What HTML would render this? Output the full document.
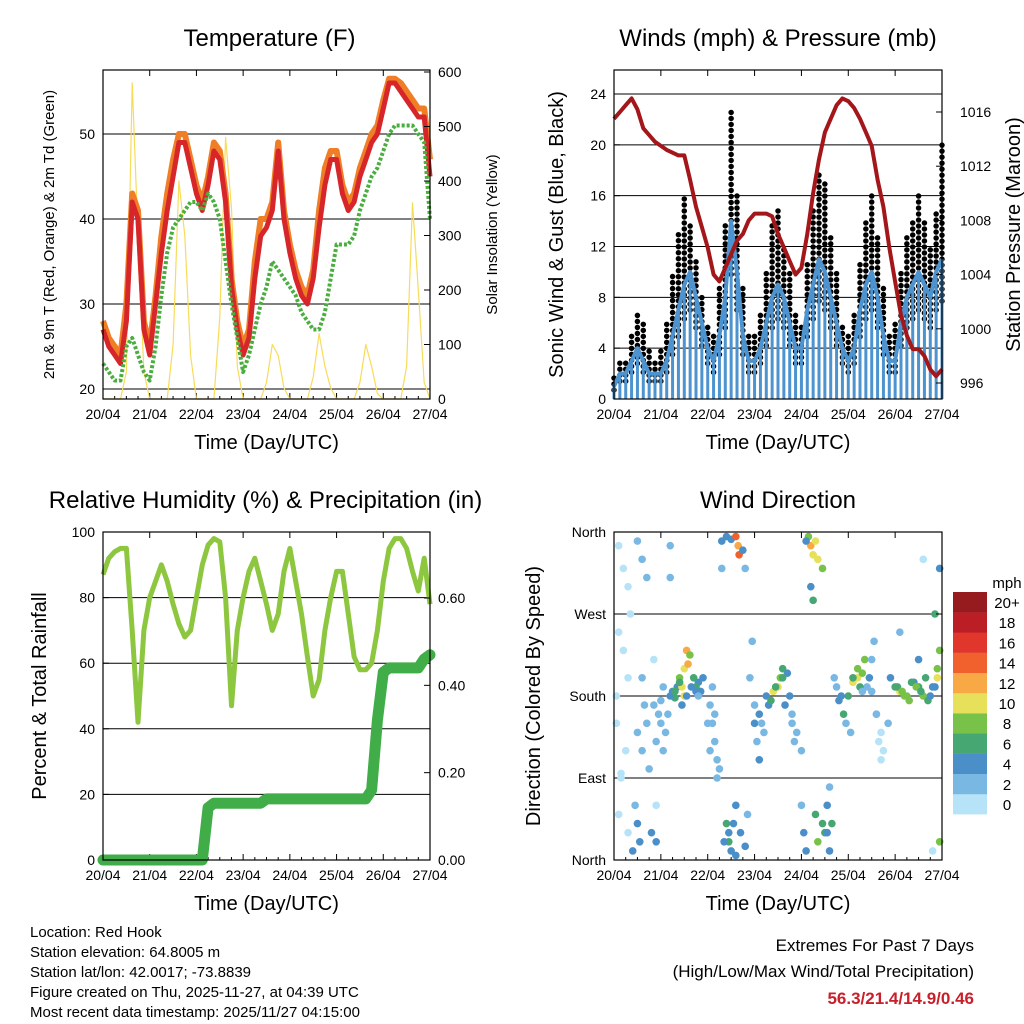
<!DOCTYPE html>
<html><head><meta charset="utf-8"><style>
html,body{margin:0;padding:0;background:#fff}
svg{display:block;font-family:"Liberation Sans",sans-serif}
</style></head><body>
<svg id="s" width="1024" height="1024" viewBox="0 0 1024 1024" xmlns="http://www.w3.org/2000/svg"></svg>
<script>
// ---- data (3-hourly, 20/04 00Z .. 27/04 00Z) ----
const dayLabels=["20/04","21/04","22/04","23/04","24/04","25/04","26/04","27/04"];
const temp2m=[27,25,24,23,28,42,40,27,24,30,36,41,45,49,49,46,43,41,44,48,47,42,32,27,24,26,33,38,39,41,48,40,36,33,31,30,33,39,44,47,47,43,41,42,45,47,49,50,53,56,56,55,54,53,52,52,45];
const temp9m=[28,26,25,24,30,43,41,28,25,31,38,43,47,50,50,47,44,42,45,49,48,43,33,28,25,27,35,40,40,42,49,41,37,34,32,31,34,41,46,48,48,44,42,43,46,48,50,51,54,56.5,56.5,56,55,54,53,53,47];
const dewpoint=[23,22,21,21,25,26,24,22,21,25,31,36,39,40,41,42,42,41,43,42,40,35,30,26,22,24,27,30,32,35,34,33,32,31,29,28,27,27,29,33,37,37,37,38,41,43,45,46,48,50,51,51,51,51,50,49,40];
const solar=[0,0,0,0,50,580,300,50, 0,0,0,0,100,400,300,80, 0,0,0,0,150,480,350,60, 0,0,0,0,30,100,80,20, 0,0,0,0,40,120,60,20, 0,0,0,0,30,100,60,10, 0,0,0,0,60,360,200,30, 0];
const windSpd=[1,2,2,3,4,3,2,2, 2,3,5,7,9,10,8,6, 4,3,5,8,14,10,5,3, 3,4,6,8,9,8,6,4, 4,7,9,11,10,8,6,4, 3,4,7,9,10,8,5,3, 3,6,8,9,10,9,8,10, 11];
const windGust=[2,3,3,5,7,6,4,3, 4,6,10,13,16,14,11,8, 6,5,9,14,23,16,9,5, 5,7,10,14,15,12,10,7, 6,11,15,18,17,13,10,6, 5,7,11,14,16,13,9,5, 6,10,13,14,16,14,12,15, 20];
const pressure=[1015.5,1016,1016.5,1017,1016.2,1014.8,1014.3,1013.8,1013.5,1013.2,1013,1012.8,1012.8,1011,1009,1007.5,1006,1004,1003.5,1004.5,1005.5,1006.5,1007,1008,1008.5,1008.5,1008.5,1008.3,1007,1006,1005,1004,1004.5,1007,1010,1012.5,1014.5,1015.5,1016.5,1017,1016.8,1016.3,1015.5,1014.5,1013.5,1011,1009,1006,1003.5,1001,999.5,998.5,998.5,998,997,996.5,997];
const humidity=[87,92,94,95,95,70,42,70,80,85,90,85,78,72,68,70,80,90,96,98,97,80,47,70,80,88,92,85,78,70,75,88,95,85,75,62,50,55,70,80,88,88,75,62,58,58,60,70,85,95,98,98,95,88,82,92,78];
const precip=[0,0,0,0,0,0,0,0,0,0,0,0,0,0,0,0,0,0,0.12,0.13,0.13,0.13,0.13,0.13,0.13,0.13,0.13,0.13,0.14,0.14,0.14,0.14,0.14,0.14,0.14,0.14,0.14,0.14,0.14,0.14,0.14,0.14,0.14,0.14,0.14,0.14,0.16,0.32,0.43,0.44,0.44,0.44,0.44,0.44,0.44,0.46,0.47];
const dirTime=[0.1,0.2,0.3,0.5,0.6,0.7,0.1,0.2,0.3,0.05,0.25,0.15,0.5,0.6,0.45,0.5,0.55,0.4,0.1,0.3,
1.2,1.2,0.85,0.95,1.0,1.1,0.9,1.05,0.9,0.85,
1.25,1.3,1.35,1.4,1.45,1.5,1.55,1.58,1.62,1.7,1.8,1.9,1.85,1.75,1.5,
2.05,2.1,2.15,2.2,2.25,2.1,
2.3,2.4,2.5,2.6,2.65,2.67,2.75,2.8,2.3,
2.4,2.45,2.5,2.7,2.8,2.85,2.6,
2.95,3.0,3.05,3.1,3.2,3.3,3.4,3.5,3.55,3.6,3.7,3.75,3.8,3.9,4.0,
4.15,4.2,4.25,4.3,4.35,4.45,4.2,4.25,4.1,
4.0,4.05,4.1,4.3,4.35,4.45,4.5,4.55,4.6,
4.7,4.8,4.9,5.0,5.1,5.2,5.3,5.35,5.4,5.5,5.55,5.6,5.65,5.7,4.95,5.05,
5.9,6.0,6.1,6.2,6.3,6.4,6.5,6.6,6.7,6.8,6.9,6.95,6.85,6.5,6.6,6.1,6.95,6.95,6.8,
0.05,0.15,0.35,0.6,0.65,0.7,0.75,0.8,0.9,1.0,1.05,1.15,1.2,1.3,1.4,1.45,1.55,1.65,1.75,1.8,
2.0,2.05,2.15,2.2,2.35,2.45,2.55,2.6,2.9,3.0,3.1,3.15,3.25,3.35,3.45,3.6,3.65,3.8,3.85,
4.55,4.6,4.65,4.75,4.85,5.1,5.2,5.25,5.3,5.45,5.5,5.6,5.7,5.75,5.85,6.05,6.15,6.25,6.35,6.45,6.55,6.65,6.75,6.85,6.9];
const dirDeg=[345,320,300,350,330,310,250,230,200,150,120,95,140,120,60,40,20,10,50,30,
345,310,170,160,150,140,130,120,60,220,
185,178,190,200,190,210,230,215,225,200,195,200,185,190,180,
170,150,130,110,100,190,
350,355,352,355,345,335,340,320,320,
40,20,10,30,15,50,5,
240,150,130,110,140,170,185,190,200,210,205,180,160,140,120,
355,345,335,350,330,320,300,285,350,
60,30,10,50,20,40,30,60,80,
200,175,160,180,195,200,205,220,190,220,240,160,130,110,150,140,
200,190,185,180,175,195,190,180,175,190,200,230,270,220,330,250,320,20,10,
180,90,270,200,170,150,100,30,20,175,190,160,180,185,195,170,180,190,185,180,
150,120,160,90,20,30,40,60,200,170,160,150,180,175,190,200,170,150,130,
30,10,40,190,180,200,210,190,185,200,185,160,140,120,150,190,185,180,195,190,185,200,180,190,210];
const dirSpeed=[1,1,1,3,3,3,1,1,1,1,1,1,3,3,3,4,4,4,1,1,
2,2,2,2,2,3,3,2,1,1,
5,6,5,8,10,10,12,12,8,6,4,4,4,7,10,
3,3,3,2,2,2,
4,5,4,15,13,14,4,2,3,
6,6,4,4,4,3,4,
3,4,3,4,3,4,10,10,8,6,4,4,3,2,2,
8,12,10,10,10,8,4,6,4,
2,4,4,6,8,6,7,4,2,
3,4,6,6,10,10,8,8,3,2,3,2,1,1,3,2,
4,7,10,8,8,4,6,8,7,4,10,8,6,4,1,2,4,8,1,
1,1,1,2,2,3,3,4,4,3,3,2,4,6,6,5,4,4,5,3,
3,3,2,2,4,5,4,4,2,3,4,3,4,6,7,6,5,3,2,
4,4,6,3,5,7,8,6,3,4,3,2,1,1,3,7,8,9,6,8,7,6,5,4,8];
const speedColors=["#b6e3f7","#7ab8e4","#4a8fc8","#47a772","#79c24a","#e7e05a","#f8a844","#f0612d","#e0362b","#bc1e26","#951b1e"];
const speedLabels=["0","2","4","6","8","10","12","14","16","18","20+"];

const NS="http://www.w3.org/2000/svg";
const S=document.getElementById('s');
function mk(tag,attrs,parent,name,inter){const e=document.createElementNS(NS,tag);for(const k in attrs)e.setAttribute(k,attrs[k]);(parent||S).appendChild(e);


return e;}
function txt(x,y,s,size,anchor,parent,name,extra){const t=mk('text',Object.assign({x:x,y:y,'font-size':size,'text-anchor':anchor||'middle',fill:'#000'},extra||{}),parent,name);t.textContent=s;return t;}
function lin(d0,d1,r0,r1){return v=>r0+(v-d0)*(r1-r0)/(d1-d0);}
const tIdx=i=>i/8;

function panel(o){
  const g=mk('g',{},S,o.name);
  const X=lin(0,7,o.x0,o.x1);
  o.grid.forEach(v=>mk('line',{x1:o.x0,x2:o.x1,y1:o.Y(v),y2:o.Y(v),stroke:'#000','stroke-width':1},g,'gridline'));
  dayLabels.forEach((l,i)=>{const x=X(i);mk('line',{x1:x,x2:x,y1:o.y0,y2:o.y0+6,stroke:'#000'},g,'x-tick');mk('line',{x1:x,x2:x,y1:o.y1,y2:o.y1-6,stroke:'#000'},g,'x-tick');txt(x,o.y1+20,l,14,'middle',g,'x-tick-label');});
  for(let i=0;i<7;i++){for(let k=1;k<4;k++){const x=X(i+k/4);mk('line',{x1:x,x2:x,y1:o.y1,y2:o.y1-3,stroke:'#000'},g,'x-minor-tick');}}
  txt((o.x0+o.x1)/2,o.y1+50,'Time (Day/UTC)',20,'middle',g,'x-axis-title');
  txt((o.x0+o.x1)/2+(o.titleDx||0),o.y0-24,o.title,24,'middle',g,'chart-title');
  o.leftTicks.forEach(([v,l])=>{const y=o.Y(v);mk('line',{x1:o.x0,x2:o.x0+6,y1:y,y2:y,stroke:'#000'},g,'y-tick');txt(o.x0-8,y+5,l,14,'end',g,'y-tick-label');});
  txt(0,0,o.ylab,o.ylabSize||20,'middle',g,'y-axis-title',{transform:`translate(${o.ylx},${(o.y0+o.y1)/2}) rotate(-90)`});
  return {g,X};
}
function frame(o,g){mk('rect',{x:o.x0,y:o.y0,width:o.x1-o.x0,height:o.y1-o.y0,fill:'none',stroke:'#000','stroke-width':1.2},g,'plot-frame');}
function path(arr,X,Y,attrs,g,name){let d='';arr.forEach((v,i)=>{d+=(i?'L':'M')+X(tIdx(i)).toFixed(1)+','+Y(v).toFixed(1);});return mk('path',Object.assign({d:d,fill:'none','stroke-linejoin':'round'},attrs),g,name);}

// ---- Panel 1: Temperature ----
{const o={name:'temperature-panel',x0:103,x1:430,y0:70,y1:399,Y:lin(20,50,389,134),grid:[20,30,40,50],leftTicks:[[20,'20'],[30,'30'],[40,'40'],[50,'50']],title:'Temperature (F)',titleDx:3,ylab:'2m & 9m T (Red, Orange) & 2m Td (Green)',ylabSize:15,ylx:54};
 const {g,X}=panel(o);const YS=lin(0,600,399,72);
 path(solar,X,YS,{stroke:'#f7dc5a','stroke-width':1.2},g,'solar-insolation-line');
 path(temp9m,X,o.Y,{stroke:'#f07e26','stroke-width':6},g,'temp-9m-line');
 path(temp2m,X,o.Y,{stroke:'#d7262a','stroke-width':5},g,'temp-2m-line');
 path(dewpoint,X,o.Y,{stroke:'#4aae3f','stroke-width':4,'stroke-dasharray':'3 2'},g,'dewpoint-line');
 [0,100,200,300,400,500,600].forEach(v=>{const y=YS(v);mk('line',{x1:o.x1,x2:o.x1-6,y1:y,y2:y,stroke:'#000'},g,'y2-tick');txt(o.x1+8,y+5,String(v),14,'start',g,'y2-tick-label');});
 txt(0,0,'Solar Insolation (Yellow)',15,'middle',g,'y2-axis-title',{transform:`translate(497,${(o.y0+o.y1)/2}) rotate(-90)`});
 frame(o,g);}

// ---- Panel 2: Winds ----
{const o={name:'winds-panel',x0:614,x1:942,y0:70,y1:399,Y:lin(0,24,399,94),grid:[4,8,12,16,20,24],leftTicks:[[0,'0'],[4,'4'],[8,'8'],[12,'12'],[16,'16'],[20,'20'],[24,'24']],title:'Winds (mph) & Pressure (mb)',ylab:'Sonic Wind & Gust (Blue, Black)',ylx:563};
 const {g,X}=panel(o);const YP=lin(996,1016,383,112);
 windGust.forEach((v,i)=>{const x=X(tIdx(i));mk('line',{x1:x,x2:x,y1:o.Y(windSpd[i]*0.7),y2:o.Y(v),stroke:'#000','stroke-width':5.5,'stroke-linecap':'round','stroke-dasharray':'0 6'},g,'gust-range');});
 windSpd.forEach((v,i)=>{const x=X(tIdx(i));mk('line',{x1:x,x2:x,y1:o.Y(0),y2:o.Y(v),stroke:'#4d93cf','stroke-width':3},g,'wind-bar');});
 path(windSpd,X,o.Y,{stroke:'#4d93cf','stroke-width':4},g,'wind-speed-line');
 path(pressure,X,YP,{stroke:'#a3161a','stroke-width':4},g,'pressure-line');
 [996,1000,1004,1008,1012,1016].forEach(v=>{const y=YP(v);mk('line',{x1:o.x1,x2:o.x1-6,y1:y,y2:y,stroke:'#000'},g,'y2-tick');txt(o.x1+18,y+5,String(v),14,'start',g,'y2-tick-label');});
 txt(0,0,'Station Pressure (Maroon)',20,'middle',g,'y2-axis-title',{transform:`translate(1020,${(o.y0+o.y1)/2}) rotate(-90)`});
 frame(o,g);}

// ---- Panel 3: RH & Precip ----
{const o={name:'humidity-precip-panel',x0:103,x1:430,y0:532,y1:860,Y:lin(0,100,860,532),grid:[20,40,60,80,100],leftTicks:[[0,'0'],[20,'20'],[40,'40'],[60,'60'],[80,'80'],[100,'100']],title:'Relative Humidity (%) & Precipitation (in)',titleDx:-1,ylab:'Percent & Total Rainfall',ylx:46};
 const {g,X}=panel(o);const YR=lin(0,0.6,860,598);
 path(humidity,X,o.Y,{stroke:'#8dc63f','stroke-width':5},g,'humidity-line');
 path(precip,X,YR,{stroke:'#40ad48','stroke-width':11,'stroke-linecap':'round'},g,'precip-line');
 [0,0.2,0.4,0.6].forEach(v=>{const y=YR(v);mk('line',{x1:o.x1,x2:o.x1-6,y1:y,y2:y,stroke:'#000'},g,'y2-tick');txt(o.x1+8,y+5,v.toFixed(2),14,'start',g,'y2-tick-label');});
 frame(o,g);}

// ---- Panel 4: Wind direction ----
{const o={name:'wind-direction-panel',x0:614,x1:942,y0:532,y1:860,Y:lin(0,360,860,532),grid:[90,180,270],leftTicks:[[0,'North'],[90,'East'],[180,'South'],[270,'West'],[360,'North']],title:'Wind Direction',ylab:'Direction (Colored By Speed)',ylx:540};
 const {g,X}=panel(o);
 dirTime.forEach((t,i)=>{const c=speedColors[Math.min(10,Math.floor(dirSpeed[i]/2))];mk('circle',{cx:X(t),cy:o.Y(dirDeg[i]),r:3.8,fill:c},g,'direction-point');});
 [0,90,180,270,360].forEach(v=>{const y=o.Y(v);mk('line',{x1:o.x1,x2:o.x1-6,y1:y,y2:y,stroke:'#000'},g,'y2-tick');});
 frame(o,g);
 const lg=mk('g',{},S,'speed-legend');
 txt(1007,588,'mph',15,'middle',lg,'legend-title');
 speedColors.forEach((c,i)=>{const y=794-i*20.2;mk('rect',{x:953,y:y,width:34,height:20.4,fill:c},lg,'legend-swatch');txt(1007,y+16,speedLabels[i],15,'middle',lg,'legend-label');});
}

// ---- Footer ----
{const f=mk('g',{},S,'station-info');
 ['Location: Red Hook','Station elevation: 64.8005 m','Station lat/lon: 42.0017; -73.8839','Figure created on Thu, 2025-11-27, at 04:39 UTC','Most recent data timestamp: 2025/11/27 04:15:00'].forEach((s,i)=>txt(30,937+i*20,s,15,'start',f,'info-line'));
 const e=mk('g',{},S,'extremes-summary');
 txt(974,951,'Extremes For Past 7 Days',17,'end',e,'extremes-title');
 txt(974,977,'(High/Low/Max Wind/Total Precipitation)',17,'end',e,'extremes-subtitle');
 txt(974,1004,'56.3/21.4/14.9/0.46',17,'end',e,'extremes-values',{fill:'#c8202b','font-weight':'bold'});}
</script>
</body></html>
